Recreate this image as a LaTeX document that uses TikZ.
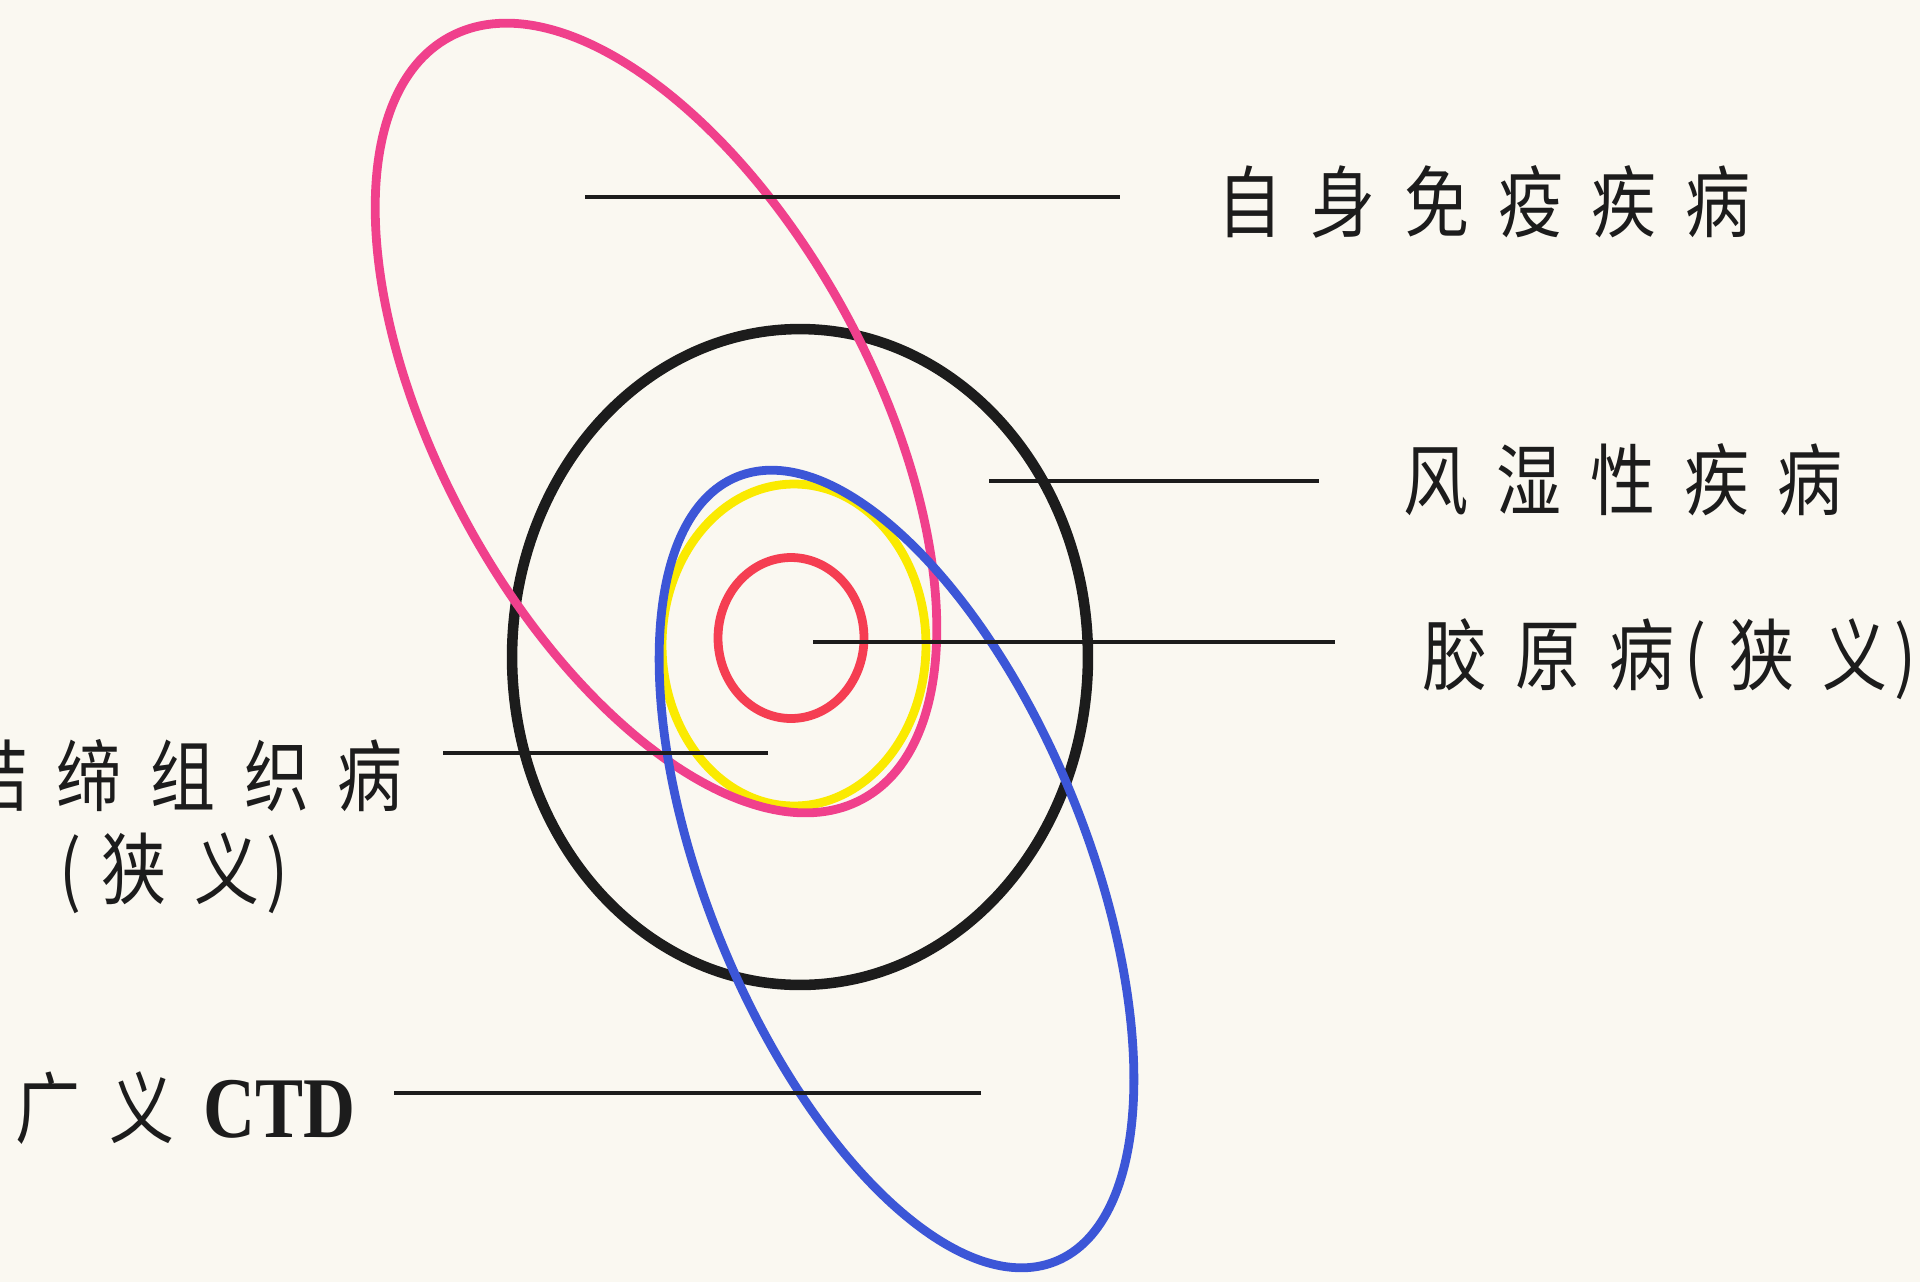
\documentclass[tikz,border=0pt]{standalone}
\usepackage{fontspec}
\setmainfont{Liberation Serif}
\newfontfamily\cjk{Noto Sans CJK SC}
\newcommand{\gp}{\hspace{0.44em}}
\definecolor{paper}{RGB}{250,248,241}
\definecolor{ink}{RGB}{28,28,28}
\definecolor{pk}{RGB}{240,64,140}
\definecolor{rd}{RGB}{245,62,82}
\definecolor{yel}{RGB}{250,234,0}
\definecolor{bl}{RGB}{60,86,215}
\begin{document}
\begin{tikzpicture}[x=0.02cm, y=-0.02cm,
  ring/.style={line width=5pt},
  lead/.style={line width=2.4pt, draw=ink},
  lbl/.style={font=\cjk\fontsize{37}{40}\selectfont, text=ink, inner sep=0pt, yscale=1.2}]
  \fill[paper] (0,0) rectangle (1920,1282);
  \useasboundingbox (0,0) rectangle (1920,1282);
  % rings
  \draw[ring, ink, line width=6pt] (800,657) ellipse [x radius=5.76cm, y radius=6.56cm];
  \draw[ring, yel] (794,645) ellipse [x radius=2.64cm, y radius=3.22cm];
  \draw[ring, rd] (791,638) ellipse [x radius=1.46cm, y radius=1.61cm];
  \draw[ring, pk, rotate around={-61.55:(656,418)}] (656,418) ellipse [x radius=8.67cm, y radius=4.33cm];
  \draw[ring, bl, rotate around={-67.9:(896.5,869)}] (896.5,869) ellipse [x radius=8.47cm, y radius=3.8cm];
  % labels
  \node[lbl, anchor=west] (autoimm) at (1217,202) {自\gp{}身\gp{}免\gp{}疫\gp{}疾\gp{}病};
  \node[lbl, anchor=west] (rheum) at (1403,480) {风\gp{}湿\gp{}性\gp{}疾\gp{}病};
  \node[lbl, anchor=west] (collagen) at (1422,659) {胶\gp{}原\gp{}病\hspace{0.15em}(\hspace{0.35em}狭\gp{}义\hspace{0.1em})};
  \node[lbl, anchor=east] (ctdnar) at (403,776) {结\gp{}缔\gp{}组\gp{}织\gp{}病};
  \node[lbl] (ctdnarb) at (174,873) {(\hspace{0.3em}狭\gp{}义\hspace{0.1em})};
  \node[lbl, anchor=east] (ctdwide) at (356,1108) {广\gp{}义\hspace{0.45em}{\rmfamily\bfseries\fontsize{41}{44}\selectfont CTD}};
  % leader lines
  \coordinate (autoimmIn) at (585,197);
  \coordinate (rheumIn) at (989,481);
  \coordinate (collagenIn) at (813,642);
  \coordinate (ctdnarIn) at (768,753);
  \coordinate (ctdwideIn) at (981,1093);
  \draw[lead, shorten >=1.94cm] (autoimmIn) -- (autoimmIn -| autoimm.west);
  \draw[lead, shorten >=1.68cm] (rheumIn) -- (rheumIn -| rheum.west);
  \draw[lead, shorten >=1.74cm] (collagenIn) -- (collagenIn -| collagen.west);
  \draw[lead, shorten >=0.8cm] (ctdnarIn) -- (ctdnarIn -| ctdnar.east);
  \draw[lead, shorten >=0.76cm] (ctdwideIn) -- (ctdwideIn -| ctdwide.east);
\end{tikzpicture}
\end{document}
